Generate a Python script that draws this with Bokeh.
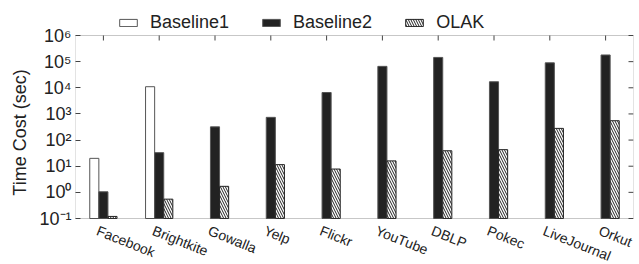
import numpy as np
from bokeh.plotting import figure
from bokeh.models import (ColumnDataSource, Legend, LegendItem, BoxAnnotation,
                          FixedTicker)
from bokeh.embed import file_html
from bokeh.resources import INLINE

categories = ["Facebook", "Brightkite", "Gowalla", "Yelp", "Flickr",
              "YouTube", "DBLP", "Pokec", "LiveJournal", "Orkut"]
baseline1 = [20, 11000, np.nan, np.nan, np.nan, np.nan, np.nan, np.nan, np.nan, np.nan]
baseline2 = [1.05, 33, 320, 740, 6600, 66000, 145000, 17000, 90000, 180000]
olak = [0.12, 0.55, 1.7, 11.5, 7.8, 16, 39, 43, 280, 550]
series_names = ["Baseline1", "Baseline2", "OLAK"]
y_ticks = [0.1, 1, 10, 100, 1000, 10000, 100000, 1000000]
y_tick_labels = ["10⁻¹", "10⁰", "10¹", "10²", "10³", "10⁴", "10⁵", "10⁶"]

FONT = "Liberation Sans"
TXT = "#222222"
AX = "#444444"
n = len(categories)
centers = [i + 0.5 for i in range(n)]
w = 0.163
y_lo, y_hi = y_ticks[0], y_ticks[-1]

# layout in pixels: plot box 183 px tall, room above for legend, below for labels
W, H, TOP_PAD, BOT_PAD = 639, 264, 35, 46
px_per_dec = (H - TOP_PAD - BOT_PAD) / np.log10(y_hi / y_lo)
y_start = y_lo / 10 ** (BOT_PAD / px_per_dec)
y_end = y_hi * 10 ** (TOP_PAD / px_per_dec)

src = ColumnDataSource(dict(
    x1=[c - w for c in centers], x2=centers, x3=[c + w for c in centers],
    b1=baseline1, b2=baseline2, ol=olak, base=[y_lo] * n))

p = figure(width=W, height=H, x_range=(0, n), y_range=(y_start, y_end),
           y_axis_type="log", output_backend="svg", toolbar_location=None,
           min_border_left=75, min_border_right=6, min_border_top=0,
           min_border_bottom=0)
p.outline_line_color = None
p.xgrid.visible = False
p.ygrid.visible = False
p.xaxis.visible = False

r1 = p.vbar(x="x1", top="b1", bottom="base", width=w, source=src,
            fill_color="white", line_color="#555555", line_width=1)
r2 = p.vbar(x="x2", top="b2", bottom="base", width=w, source=src,
            fill_color="#222222", line_color="#555555", line_width=1)
r3 = p.vbar(x="x3", top="ol", bottom="base", width=w, source=src,
            fill_color="white", line_color="#222222", line_width=1,
            hatch_pattern="left_diagonal_line", hatch_color="#222222",
            hatch_scale=5, hatch_weight=1)

# plot box
p.add_layout(BoxAnnotation(left=0, right=n, bottom=y_lo, top=y_hi,
                           fill_alpha=0, line_color=AX, line_width=1))
# inward ticks on top (group centres) and right (decades)
p.ray(x=centers, y=[y_hi] * n, length=5, length_units="screen",
      angle=-np.pi / 2, line_color=AX, line_width=1)
p.ray(x=[n] * len(y_ticks), y=y_ticks, length=5, length_units="screen",
      angle=np.pi, line_color=AX, line_width=1)

# rotated category labels
p.text(x=[c - 0.055 for c in centers], y=[y_lo] * n, text=categories,
       angle=-0.38, text_align="left", text_baseline="top", y_offset=4,
       text_font={"value": FONT}, text_font_size="14px", text_color=TXT)

ya = p.yaxis[0]
ya.ticker = FixedTicker(ticks=y_ticks, minor_ticks=[])
ya.major_label_overrides = {t: l for t, l in zip(y_ticks, y_tick_labels)}
ya.major_tick_in = 5
ya.major_tick_out = 0
ya.minor_tick_line_color = None
ya.axis_line_color = None
ya.major_tick_line_color = AX
ya.major_label_text_font = FONT
ya.major_label_text_font_size = "18px"
ya.major_label_text_color = TXT
ya.axis_label = "Time Cost (sec)"
ya.axis_label_text_font = FONT
ya.axis_label_text_font_size = "18px"
ya.axis_label_text_font_style = "normal"
ya.axis_label_text_color = TXT
ya.axis_label_standoff = 6
ya.major_label_standoff = 4

legend = Legend(items=[LegendItem(label=nm, renderers=[r]) for nm, r in
                       zip(series_names, [r1, r2, r3])],
                orientation="horizontal", location=(42, H - 33),
                background_fill_alpha=0, border_line_color=None,
                label_text_font=FONT, label_text_font_size="18px",
                label_text_color=TXT, label_height=20,
                glyph_width=22, glyph_height=9, spacing=31, padding=0, margin=0,
                label_standoff=11)
p.add_layout(legend, "center")

open("out.html", "w").write(file_html(p, INLINE))
